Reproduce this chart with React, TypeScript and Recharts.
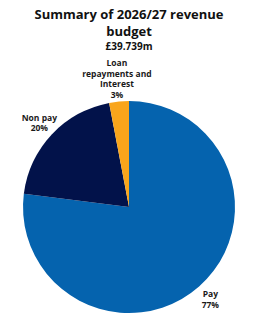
import { PieChart, Pie, Cell } from "recharts";

const categories = ["Pay", "Non pay", "Loan repayments and Interest"];
const shares = [77, 20, 3];
const labelLines = [["Pay"], ["Non pay"], ["Loan", "repayments and", "Interest"]];
const sliceColors = ["#0563AE", "#02124A", "#F9A51B"];

const titleLines = ["Summary of 2026/27 revenue", "budget"];
const subtitle = "£39.739m";

const data = categories.map((name, i) => ({
  name,
  value: shares[i],
  lines: [...labelLines[i], `${shares[i]}%`],
}));

const RADIAN = Math.PI / 180;
const font = "'Open Sans', 'DejaVu Sans', sans-serif";

// multi-line label, pushed a bit further out when it has more lines
function renderLabel(props: any) {
  const { cx, cy, midAngle, outerRadius, payload } = props;
  const lines: string[] = payload.lines;
  const r = outerRadius + 17 + (lines.length - 2) * 2.75;
  const x = cx + r * Math.cos(-midAngle * RADIAN);
  const y = cy + r * Math.sin(-midAngle * RADIAN);
  const lh = 10.5;
  const first = y - ((lines.length - 1) * lh) / 2 + 3;
  return (
    <g>
      {lines.map((l, i) => (
        <text
          key={i}
          x={x}
          y={first + i * lh}
          textAnchor="middle"
          fontFamily={font}
          fontSize={8.5}
          fontWeight="bold"
          fill="#1a1a1a"
        >
          {l}
        </text>
      ))}
    </g>
  );
}

export default function App() {
  return (
    <div style={{ position: "absolute", left: 0, top: 0, width: 263, height: 324, background: "#fff" }}>
      <PieChart width={263} height={324} margin={{ top: 0, right: 0, bottom: 0, left: 0 }}>
        <text x={129} y={19} textAnchor="middle" fontFamily={font} fontSize={13} fontWeight="bold" fill="#111">
          {titleLines[0]}
        </text>
        <text x={129} y={35.5} textAnchor="middle" fontFamily={font} fontSize={13} fontWeight="bold" fill="#111">
          {titleLines[1]}
        </text>
        <text x={129} y={50} textAnchor="middle" fontFamily={font} fontSize={10} fontWeight="bold" fill="#111">
          {subtitle}
        </text>
        <Pie
          data={data}
          dataKey="value"
          nameKey="name"
          cx={129}
          cy={207}
          outerRadius={106}
          startAngle={90}
          endAngle={-270}
          stroke="none"
          label={renderLabel}
          labelLine={false}
          isAnimationActive={false}
        >
          {data.map((d, i) => (
            <Cell key={d.name} fill={sliceColors[i]} />
          ))}
        </Pie>
      </PieChart>
    </div>
  );
}
